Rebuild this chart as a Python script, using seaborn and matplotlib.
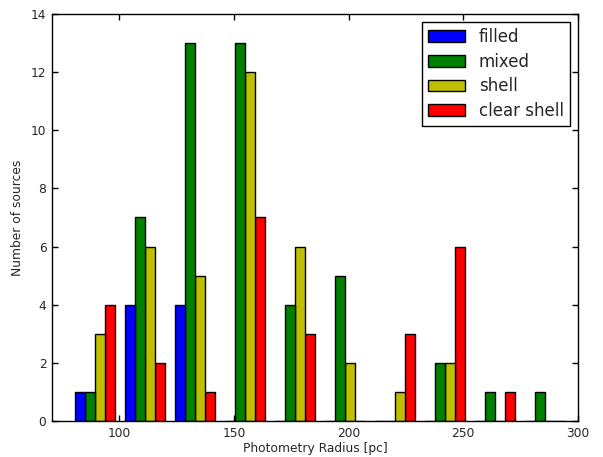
import matplotlib
matplotlib.use('Agg')
import matplotlib.pyplot as plt
from matplotlib.patches import Patch
import pandas as pd
import seaborn as sns
import numpy as np

# histogram bins (photometry radius, pc)
bin_edges = [78.5, 100.3, 122.1, 143.9, 165.7, 187.5, 209.3, 231.1, 252.9, 274.7, 296.5]
types = ['filled', 'mixed', 'shell', 'clear shell']
filled = [1, 4, 4, 0, 0, 0, 0, 0, 0, 0]
mixed = [1, 7, 13, 13, 4, 5, 0, 2, 1, 1]
shell = [3, 6, 5, 12, 6, 2, 1, 2, 0, 0]
clear_shell = [4, 2, 1, 7, 3, 0, 3, 6, 1, 0]
colors = ['#0000ff', '#008000', '#bfbf00', '#ff0000']

centers = [(a + b) / 2 for a, b in zip(bin_edges[:-1], bin_edges[1:])]
rows = []
for name, counts in zip(types, [filled, mixed, shell, clear_shell]):
    for c, n in zip(centers, counts):
        rows.append({'radius': c, 'count': n, 'type': name})
df = pd.DataFrame(rows)

sns.set_style('white')
plt.rcParams['font.family'] = ['DejaVu Sans']
plt.rcParams['xtick.direction'] = 'in'
plt.rcParams['ytick.direction'] = 'in'

fig = plt.figure(figsize=(6.03, 4.57), dpi=100)
ax = fig.add_axes([0.0862, 0.0788, 0.8723, 0.8906])

sns.histplot(data=df, x='radius', weights='count', hue='type', hue_order=types,
             bins=bin_edges, multiple='dodge', shrink=0.8, palette=colors,
             alpha=1, edgecolor='black', linewidth=1, legend=False, ax=ax)

ax.set_xlim(70.7, 300)
ax.set_ylim(0, 14)
ax.set_xticks([100, 150, 200, 250, 300])
ax.set_yticks(range(0, 15, 2))
ax.tick_params(which='both', top=True, right=True, bottom=True, left=True,
               length=4.5, width=1, labelsize=8.8, color='black', pad=4)
for s in ax.spines.values():
    s.set_color('black')
    s.set_linewidth(1)
ax.set_xlabel('Photometry Radius [pc]', fontsize=8.8, labelpad=2)
ax.set_ylabel('Number of sources', fontsize=8.8, labelpad=5)

handles = [Patch(facecolor=c, edgecolor='black', label=t) for c, t in zip(colors, types)]
leg = ax.legend(handles=handles, loc='upper right', fontsize=12, fancybox=False,
                framealpha=1, edgecolor='black', handlelength=2.25,
                labelspacing=0.4, borderpad=0.35)
leg.get_frame().set_linewidth(1)

fig.savefig('out.png', dpi=100)
